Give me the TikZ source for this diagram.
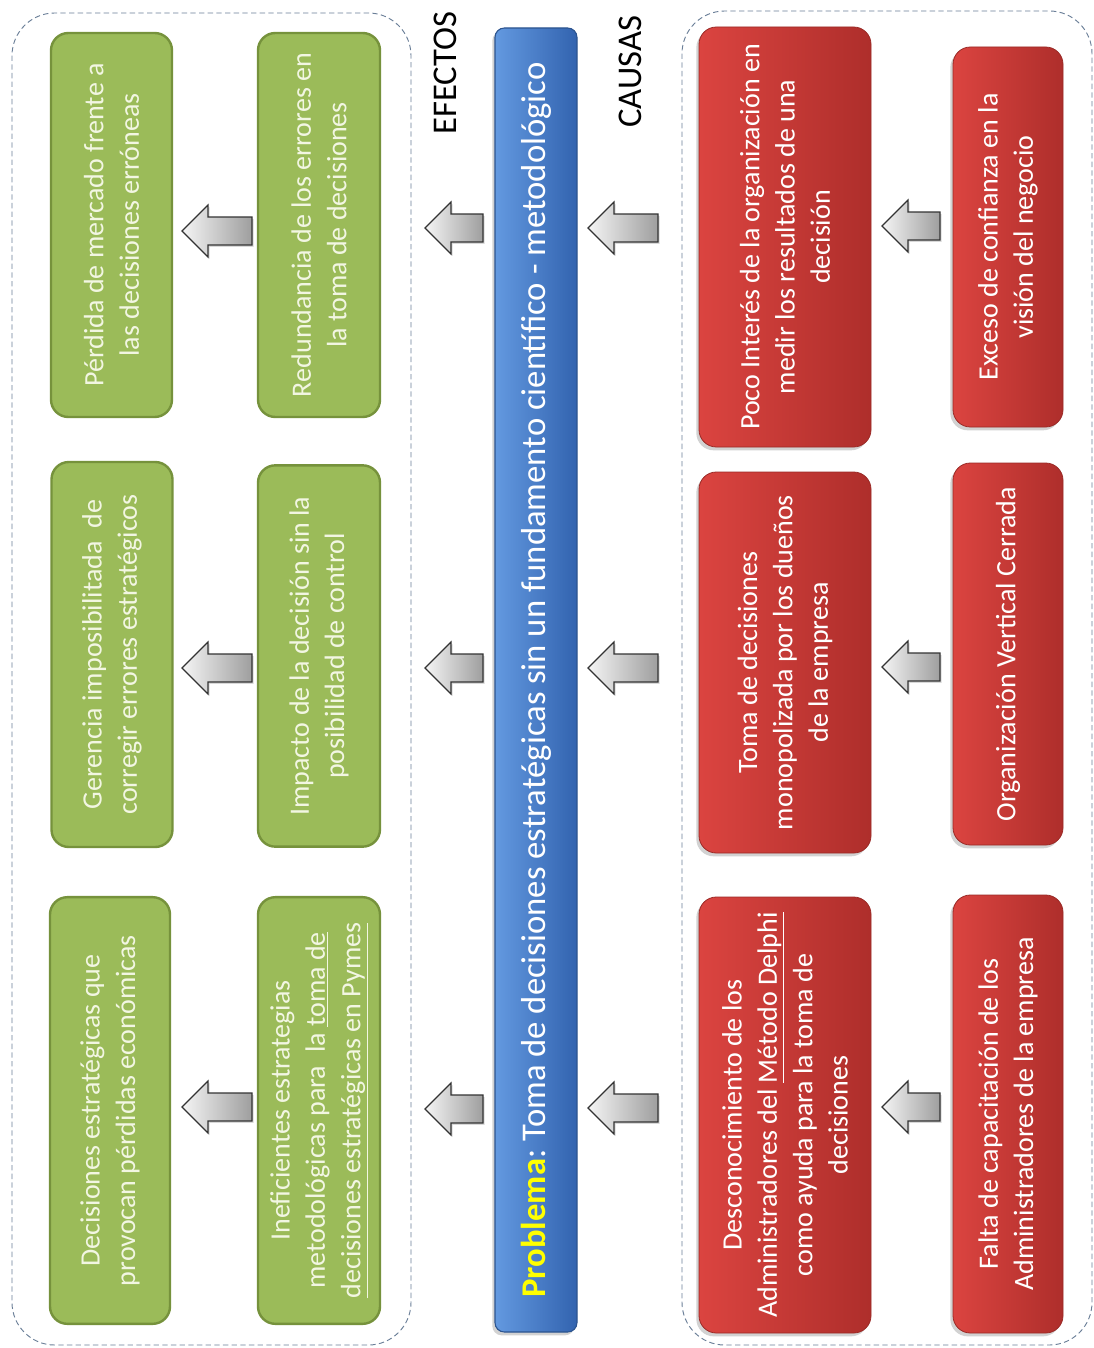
\documentclass[tikz,border=0pt]{standalone}
\usepackage{fontspec}
\setmainfont{Carlito}
\usetikzlibrary{shapes.arrows,shadows}
\frenchspacing

\definecolor{grfill}{HTML}{9BBB59}
\definecolor{grline}{HTML}{76923C}
\definecolor{grtext}{HTML}{F2F6E2}
\definecolor{rdlight}{HTML}{DB4440}
\definecolor{rdmid}{HTML}{CC3A36}
\definecolor{rddark}{HTML}{AE2E2B}
\definecolor{rdline}{HTML}{9A2A26}
\definecolor{bllight}{HTML}{6399E0}
\definecolor{blmid}{HTML}{4A80CF}
\definecolor{bldark}{HTML}{3263AF}
\definecolor{blline}{HTML}{2C548F}
\definecolor{framecol}{HTML}{6B7F98}
\definecolor{probyellow}{HTML}{FFFF00}

\tikzset{
  box/.style={rotate=90, rectangle, inner sep=3pt, align=center,
    font=\fontsize{21}{26.5}\selectfont},
  effect/.style={box, rounded corners=13pt, fill=grfill, draw=grline,
    line width=1.8pt, text=grtext},
  cause/.style={box, rounded corners=13pt, left color=rdlight,
    middle color=rdmid, right color=rddark, draw=rdline, line width=0.6pt,
    text=white,
    drop shadow={shadow xshift=-2pt, shadow yshift=-2.5pt, opacity=0.35}},
  problem/.style={rotate=90, rectangle, rounded corners=7pt, inner sep=3pt,
    left color=bllight, middle color=blmid, right color=bldark,
    draw=blline, line width=0.8pt,
    text=white, font=\fontsize{26}{30}\selectfont,
    drop shadow={shadow xshift=-2pt, shadow yshift=-2.5pt, opacity=0.35}},
  heading/.style={rotate=90, inner sep=0pt, font=\fontsize{26}{30}\selectfont},
  barrow/.style={single arrow, shape border rotate=180, inner xsep=0pt,
    inner ysep=10pt, minimum width=39pt, single arrow head extend=9pt,
    single arrow tip angle=90, draw=black!80, line width=0.9pt,
    left color=black!4, right color=black!38,
    drop shadow={shadow xshift=1.2pt, shadow yshift=-1.5pt, opacity=0.3}},
  container/.style={draw=framecol, line width=0.7pt,
    dash pattern=on 4pt off 2.5pt, rounded corners=32pt},
}

\begin{document}
\begin{tikzpicture}[x=0.75pt, y=-0.75pt]
  % canvas
  \fill[white] (0,0) rectangle (1094,1348);
  \useasboundingbox (0,0) rectangle (1094,1348);

  % dashed frames around the two groups
  \draw[container] (12,13) rectangle (411,1345);
  \draw[container] (682,11) rectangle (1092,1345);

  % headings
  \node[heading] (hefectos) at (445,73) {EFECTOS};
  \node[heading] (hcausas) at (630,72) {CAUSAS};

  % central problem bar
  \node[problem, minimum width=978pt, minimum height=61.5pt] (prob) at (536,680)
    {\textcolor{probyellow}{\textbf{Problema}}: Toma de decisiones estratégicas sin un fundamento científico - metodológico};

  % effects, outer column
  \node[effect, minimum width=288pt, minimum height=90.75pt] (ea1) at (111.5,225)
    {Pérdida de mercado frente a\\las decisiones erróneas};
  \node[effect, minimum width=288.75pt, minimum height=90.75pt] (ea2) at (112,654.5)
    {Gerencia imposibilitada\ \ de\\corregir errores estratégicos};
  \node[effect, minimum width=320pt, minimum height=90pt] (ea3) at (110,1110.5)
    {Decisiones estratégicas que\\provocan pérdidas económicas};

  % effects, inner column
  \node[effect, minimum width=288pt, minimum height=91.5pt] (eb1) at (319,225)
    {Redundancia de los errores en\\la toma de decisiones};
  \node[effect, minimum width=286pt, minimum height=91.5pt] (eb2) at (319,656)
    {Impacto de la decisión sin la\\posibilidad de control};
  \node[effect, minimum width=320pt, minimum height=91.5pt] (eb3) at (319,1110.5)
    {Ineficientes estrategias\\metodológicas para\ \ la \underline{toma de}\\\underline{decisiones estratégicas en Pymes}};

  % causes, inner column
  \node[cause, minimum width=315pt, minimum height=129pt] (ca1) at (785,237)
    {Poco Interés de la organización en\\medir los resultados de una\\decisión};
  \node[cause, minimum width=285.75pt, minimum height=129pt] (ca2) at (785,662.5)
    {Toma de decisiones\\monopolizada por los dueños\\de la empresa};
  \node[cause, minimum width=327pt, minimum height=129pt] (ca3) at (785,1115)
    {Desconocimiento de los\\Administradores del \underline{Método Delphi}\\como ayuda para la toma de\\decisiones};

  % causes, outer column
  \node[cause, minimum width=285pt, minimum height=82.5pt] (cb1) at (1008,237)
    {Exceso de confianza en la\\visión del negocio};
  \node[cause, minimum width=286.5pt, minimum height=82.5pt] (cb2) at (1008,654)
    {Organización Vertical Cerrada};
  \node[cause, minimum width=328.5pt, minimum height=82.5pt] (cb3) at (1008,1114)
    {Falta de capacitación de los\\Administradores de la empresa};

  % block arrows, one row per chain
  \node[barrow, minimum height=52.5pt] (ae1) at (224,231) {};
  \node[barrow, minimum height=43.5pt] (ap1) at (461,228) {};
  \node[barrow, minimum height=52.5pt] (ac1) at (630,228) {};
  \node[barrow, minimum height=43.5pt] (ad1) at (918,226) {};

  \node[barrow, minimum height=52.5pt] (ae2) at (224,668) {};
  \node[barrow, minimum height=43.5pt] (ap2) at (461,668) {};
  \node[barrow, minimum height=52.5pt] (ac2) at (630,668) {};
  \node[barrow, minimum height=43.5pt] (ad2) at (918,667) {};

  \node[barrow, minimum height=52.5pt] (ae3) at (224,1107) {};
  \node[barrow, minimum height=43.5pt] (ap3) at (461,1109) {};
  \node[barrow, minimum height=52.5pt] (ac3) at (630,1108) {};
  \node[barrow, minimum height=43.5pt] (ad3) at (918,1107) {};
\end{tikzpicture}
\end{document}
